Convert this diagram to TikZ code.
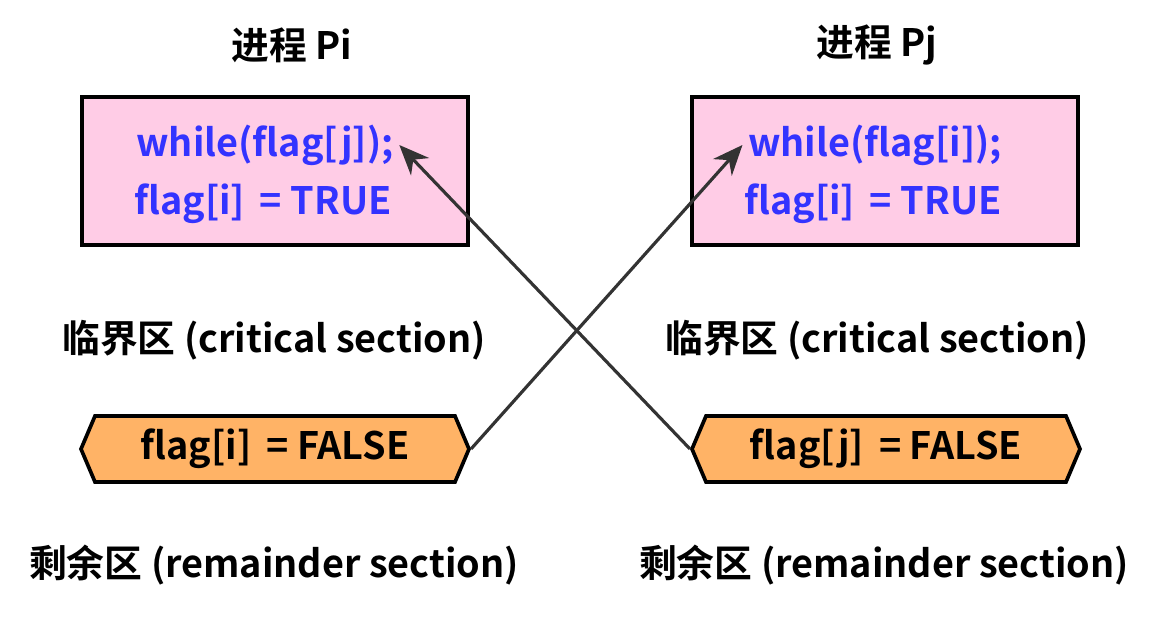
\documentclass[tikz,border=0pt]{standalone}
\usepackage{fontspec}
\setmainfont{Noto Sans CJK SC}[BoldFont={Noto Sans CJK SC Bold}]
\usetikzlibrary{shapes.symbols,arrows.meta}
\definecolor{pinkfill}{HTML}{FFCCE6}
\definecolor{codeblue}{HTML}{3333FF}
\definecolor{orangefill}{HTML}{FFB366}
\definecolor{arrowgray}{HTML}{333333}
\tikzset{
	codebox/.style={draw=black,line width=2.1pt,fill=pinkfill,minimum width=7.72cm,minimum height=2.96cm},
	codeline/.style={text=codeblue,font=\fontsize{21.5}{24}\selectfont\bfseries,inner sep=3pt},
	hexbox/.style={signal,signal to=west and east,signal pointer angle=134,draw=black,line width=2.1pt,fill=orangefill,minimum width=7.76cm,minimum height=1.32cm,inner sep=0pt,font=\fontsize{21.5}{24}\selectfont\bfseries},
	lbl/.style={font=\fontsize{21.5}{24}\selectfont\bfseries},
	flagarrow/.style={-{Stealth[length=0.6cm,width=0.5cm]},draw=arrowgray,fill=arrowgray,line width=1.8pt}
}
\begin{document}
\begin{tikzpicture}
			\useasboundingbox (0,0) rectangle (23.1,12.58);
			\node[lbl] (titleL) at(5.84,11.68){进程 Pi};
			\node[lbl] (titleR) at(17.54,11.68){进程 Pj};
			\node[codebox] (boxL) at(5.5,9.16){};
			\node[codebox] (boxR) at(17.7,9.16){};
			\node[codeline] (codeL1) at(5.3,9.68){while(flag[j]);};
			\node[codeline] (codeL2) at(5.26,8.5){flag[i] \,= TRUE};
			\node[codeline] (codeR1) at(17.5,9.68){while(flag[i]);};
			\node[codeline] (codeR2) at(17.46,8.5){flag[i] \,= TRUE};
			\node[lbl] (critL) at(5.48,5.78){临界区 (critical section)};
			\node[lbl] (critR) at(17.54,5.78){临界区 (critical section)};
			\node[hexbox] (exitL) at(5.5,3.6){flag[i] \,= FALSE};
			\node[hexbox] (exitR) at(17.72,3.6){flag[j] \,= FALSE};
			\node[lbl] (remL) at(5.48,1.28){剩余区 (remainder section)};
			\node[lbl] (remR) at(17.68,1.28){剩余区 (remainder section)};
			\draw[flagarrow](exitL.east)--(codeR1.west);
			\draw[flagarrow](exitR.west)--(codeL1.east);
			\end{tikzpicture}
\end{document}
